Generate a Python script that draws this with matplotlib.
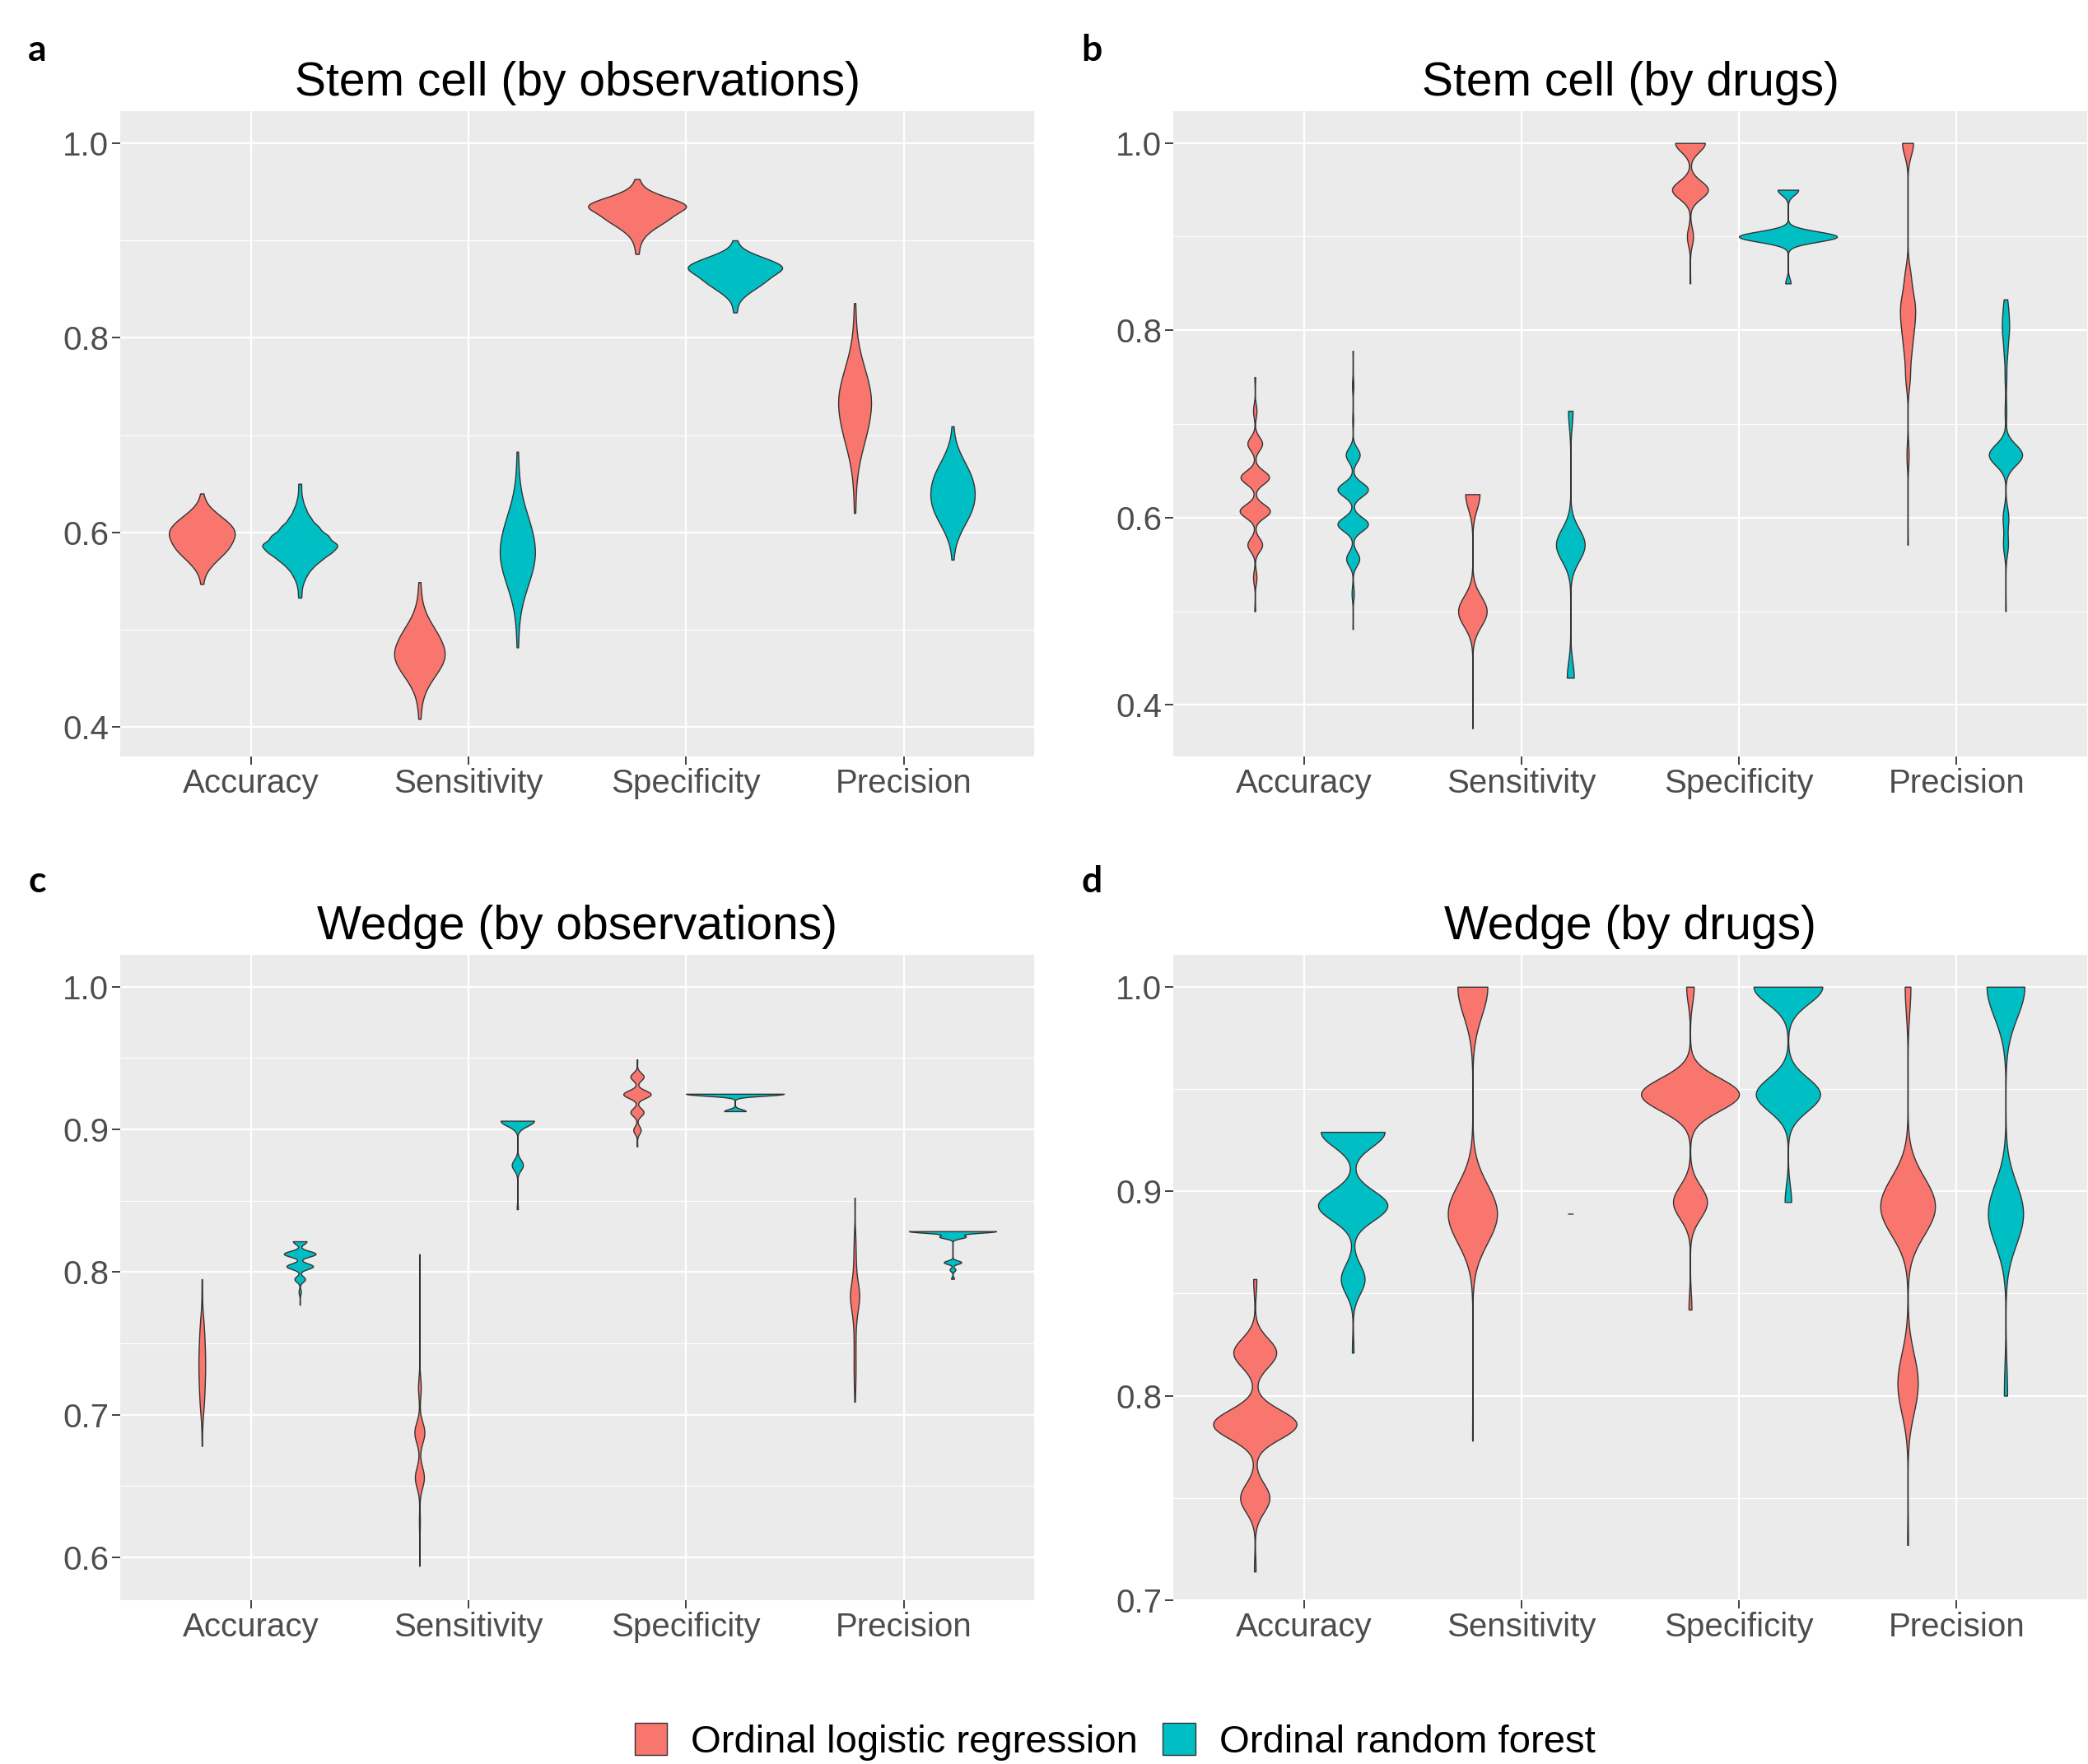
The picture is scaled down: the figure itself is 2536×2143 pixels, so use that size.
import numpy as np
import matplotlib
matplotlib.use('Agg')
import matplotlib.pyplot as plt
from matplotlib.patches import Patch

plt.rcParams['font.family'] = ['Liberation Sans', 'DejaVu Sans']

metrics = ['Accuracy', 'Sensitivity', 'Specificity', 'Precision']
models = ['Ordinal logistic regression', 'Ordinal random forest']
colors = ['#F8766D', '#00BFC4']

# each violin = observed values + how many times each value occurs
# order inside every list: Accuracy, Sensitivity, Specificity, Precision

# a: stem cell, by observations
a_olr_vals = [
    [0.547, 0.554, 0.561, 0.568, 0.575, 0.582, 0.589, 0.596,
     0.6023, 0.6086, 0.6149, 0.6211, 0.6274, 0.6337, 0.640],
    [0.4085, 0.4182, 0.4280, 0.4377, 0.4474, 0.4572, 0.4669, 0.4766,
     0.4869, 0.4973, 0.5076, 0.5180, 0.5283, 0.5387, 0.549],
    [0.886, 0.8926, 0.8991, 0.9057, 0.9123, 0.9189, 0.9254, 0.932,
     0.9364, 0.9409, 0.9453, 0.9497, 0.9541, 0.9586, 0.963],
    [0.620, 0.6359, 0.6517, 0.6676, 0.6834, 0.6993, 0.7151, 0.731,
     0.7459, 0.7609, 0.7758, 0.7907, 0.8057, 0.8206, 0.8355],
]
a_olr_counts = [
    [1, 1, 3, 6, 10, 14, 16, 17, 16, 14, 10, 6, 3, 1, 1],
    [1, 1, 2, 4, 8, 13, 17, 19, 17, 13, 8, 4, 2, 1, 1],
    [1, 1, 2, 4, 8, 13, 17, 19, 17, 13, 8, 4, 2, 1, 1],
    [1, 1, 2, 4, 8, 13, 17, 19, 17, 13, 8, 4, 2, 1, 1],
]
a_orf_vals = [
    [0.533, 0.5408, 0.5486, 0.5564, 0.5642, 0.5719, 0.5797, 0.5875,
     0.5964, 0.6054, 0.6143, 0.6232, 0.6321, 0.6411, 0.650],
    [0.482, 0.4961, 0.5103, 0.5244, 0.5386, 0.5527, 0.5669, 0.581,
     0.5956, 0.6101, 0.6247, 0.6393, 0.6539, 0.6684, 0.683],
    [0.826, 0.8321, 0.8383, 0.8444, 0.8506, 0.8567, 0.8629, 0.869,
     0.8734, 0.8779, 0.8823, 0.8867, 0.8911, 0.8956, 0.900],
    [0.572, 0.5817, 0.5914, 0.6011, 0.6109, 0.6206, 0.6303, 0.640,
     0.6499, 0.6597, 0.6696, 0.6794, 0.6893, 0.6991, 0.709],
]
a_orf_counts = [
    [1, 1, 2, 4, 7, 12, 18, 23, 18, 12, 7, 4, 2, 1, 1],
    [1, 1, 2, 4, 8, 13, 17, 19, 17, 13, 8, 4, 2, 1, 1],
    [1, 1, 2, 5, 9, 13, 16, 18, 16, 13, 9, 5, 2, 1, 1],
    [1, 1, 3, 6, 10, 14, 16, 17, 16, 14, 10, 6, 3, 1, 1],
]

# b: stem cell, by drugs
b_olr_vals = [
    [0.5, 0.536, 0.571, 0.607, 0.643, 0.679, 0.714, 0.75],
    [0.375, 0.5, 0.625],
    [0.85, 0.9, 0.95, 1.0],
    [0.571, 0.667, 0.75, 0.778, 0.8, 0.818, 0.833, 0.857, 1.0],
]
b_olr_counts = [
    [4, 16, 68, 140, 132, 68, 16, 4],
    [3, 300, 150],
    [2, 24, 140, 116],
    [2, 8, 16, 22, 30, 30, 30, 20, 42],
]
b_orf_vals = [
    [0.481, 0.519, 0.556, 0.593, 0.630, 0.667, 0.704, 0.741, 0.778],
    [0.429, 0.571, 0.714],
    [0.85, 0.9, 0.95],
    [0.5, 0.571, 0.6, 0.667, 0.714, 0.75, 0.778, 0.8, 0.818, 0.833],
]
b_orf_counts = [
    [2, 10, 60, 140, 140, 64, 4, 6, 2],
    [170, 700, 110],
    [25, 460, 97],
    [24, 240, 280, 1680, 80, 80, 160, 280, 200, 96],
]

# c: wedge, by observations
c_olr_vals = [
    [0.678, 0.692, 0.703, 0.710, 0.720, 0.730, 0.740, 0.750, 0.760, 0.768, 0.785, 0.795],
    [0.594, 0.625, 0.656, 0.6875, 0.719, 0.8125],
    [0.888, 0.8995, 0.912, 0.9246, 0.9369, 0.949],
    [0.709, 0.722, 0.735, 0.750, 0.765, 0.775, 0.783, 0.790, 0.800, 0.812, 0.824, 0.852],
]
c_olr_counts = [
    [1, 2, 6, 10, 14, 16, 16, 14, 10, 6, 2, 1],
    [2, 8, 80, 88, 24, 2],
    [3, 36, 64, 133, 64, 3],
    [1, 3, 4, 4, 5, 8, 14, 8, 5, 4, 3, 1],
]
c_orf_vals = [
    [0.777, 0.786, 0.795, 0.804, 0.8127, 0.8215],
    [0.844, 0.875, 0.906],
    [0.9127, 0.9249],
    [0.7952, 0.8016, 0.8068, 0.8247, 0.8286],
]
c_orf_counts = [
    [1, 6, 28, 70, 84, 36],
    [20, 200, 600],
    [44, 200],
    [1, 2, 6, 9, 30],
]

# d: wedge, by drugs
d_olr_vals = [
    [0.714, 0.75, 0.786, 0.821, 0.857],
    [0.778, 0.889, 1.0],
    [0.8421, 0.8947, 0.9474, 1.0],
    [0.727, 0.8, 0.812, 0.889, 0.9, 1.0],
]
d_olr_counts = [
    [4, 73, 208, 107, 8],
    [3, 309, 188],
    [9, 104, 300, 23],
    [6, 80, 80, 270, 150, 40],
]
d_orf_vals = [
    [0.821, 0.857, 0.893, 0.929],
    [0.889],
    [0.8947, 0.9474, 1.0],
    [0.8, 0.889, 1.0],
]
d_orf_counts = [
    [4, 60, 175, 161],
    [900],
    [21, 207, 222],
    [30, 330, 355],
]


def nrd0(x):
    # same rule as R's bw.nrd0
    if np.ptp(x) == 0:
        hi = 0.0
    else:
        hi = np.std(x, ddof=1)
    q75, q25 = np.percentile(x, [75, 25])
    lo = min(hi, (q75 - q25) / 1.34)
    if lo <= 0:
        lo = hi if hi > 0 else (abs(x[0]) if x[0] != 0 else 1.0)
    return 0.9 * lo * len(x) ** -0.2


def violin_density(vals, counts):
    vals = np.asarray(vals, dtype=float)
    counts = np.asarray(counts, dtype=float)
    x = np.repeat(vals, counts.astype(int))
    bw = nrd0(x)
    grid = np.linspace(x.min(), x.max(), 512)
    z = (grid[:, None] - vals[None, :]) / bw
    dens = (counts[None, :] * np.exp(-0.5 * z ** 2)).sum(axis=1)
    dens = dens / (counts.sum() * bw * np.sqrt(2 * np.pi))
    return grid, dens


panels = [
    ('a', 'Stem cell (by observations)', a_olr_vals, a_olr_counts, a_orf_vals, a_orf_counts,
     [0.0576, 0.5712, 0.4377, 0.3658], (0.370, 1.0327), [0.4, 0.6, 0.8, 1.0], [0.5, 0.7, 0.9],
     (0.0177, 0.9715)),
    ('b', 'Stem cell (by drugs)', b_olr_vals, b_olr_counts, b_orf_vals, b_orf_counts,
     [0.5619, 0.5712, 0.4377, 0.3658], (0.345, 1.034), [0.4, 0.6, 0.8, 1.0], [0.5, 0.7, 0.9],
     (0.523, 0.9715)),
    ('c', 'Wedge (by observations)', c_olr_vals, c_olr_counts, c_orf_vals, c_orf_counts,
     [0.0576, 0.0929, 0.4377, 0.3658], (0.570, 1.0223), [0.6, 0.7, 0.8, 0.9, 1.0], [0.65, 0.75, 0.85, 0.95],
     (0.0177, 0.5004)),
    ('d', 'Wedge (by drugs)', d_olr_vals, d_olr_counts, d_orf_vals, d_orf_counts,
     [0.5619, 0.0929, 0.4377, 0.3658], (0.7006, 1.0156), [0.7, 0.8, 0.9, 1.0], [0.75, 0.85, 0.95],
     (0.523, 0.5004)),
]

fig = plt.figure(figsize=(25.36, 21.43), dpi=100)

for letter, title, olr_v, olr_c, orf_v, orf_c, rect, ylim, major, minor, lpos in panels:
    ax = fig.add_axes(rect)
    ax.set_facecolor('#EBEBEB')
    for s in ax.spines.values():
        s.set_visible(False)

    # densities for the whole panel first (area scaling uses the panel max)
    shapes = []
    for m, (vals_list, counts_list) in enumerate([(olr_v, olr_c), (orf_v, orf_c)]):
        for i in range(4):
            g, d = violin_density(vals_list[i], counts_list[i])
            shapes.append((i + 1 + (m - 0.5) * 0.45, g, d, colors[m]))
    dmax = max(d.max() for _, _, d, _ in shapes)
    for pos, g, d, col in shapes:
        hw = 0.225 * d / dmax
        ax.fill_betweenx(g, pos - hw, pos + hw, facecolor=col, edgecolor='#333333',
                         linewidth=1.0, zorder=3)

    ax.set_xlim(0.4, 4.6)
    ax.set_ylim(*ylim)
    ax.set_xticks([1, 2, 3, 4])
    ax.set_xticklabels(metrics)
    ax.set_yticks(major)
    ax.set_yticklabels(['%.1f' % v for v in major])
    ax.set_yticks(minor, minor=True)
    ax.grid(which='major', color='white', linewidth=1.6, zorder=0)
    ax.grid(which='minor', axis='y', color='white', linewidth=0.8, zorder=0)
    ax.set_axisbelow(True)
    ax.tick_params(which='major', length=7, width=1.3, color='#333333', labelcolor='#4D4D4D',
                   labelsize=29, pad=3)
    ax.tick_params(which='minor', length=0)
    ax.set_title(title, fontsize=41, pad=14)

    fig.text(lpos[0], lpos[1], letter, fontsize=32, fontweight='bold',
             family=['Lato', 'DejaVu Sans'], ha='center', va='center')

handles = [Patch(facecolor=c, edgecolor='#333333', linewidth=1.0) for c in colors]
fig.legend(handles, models, loc='center', bbox_to_anchor=(0.534, 0.0125), ncol=2,
           frameon=False, fontsize=34, handlelength=0.83, handleheight=0.9,
           handletextpad=0.62, columnspacing=0.64)

fig.savefig('out.png', dpi=100)
